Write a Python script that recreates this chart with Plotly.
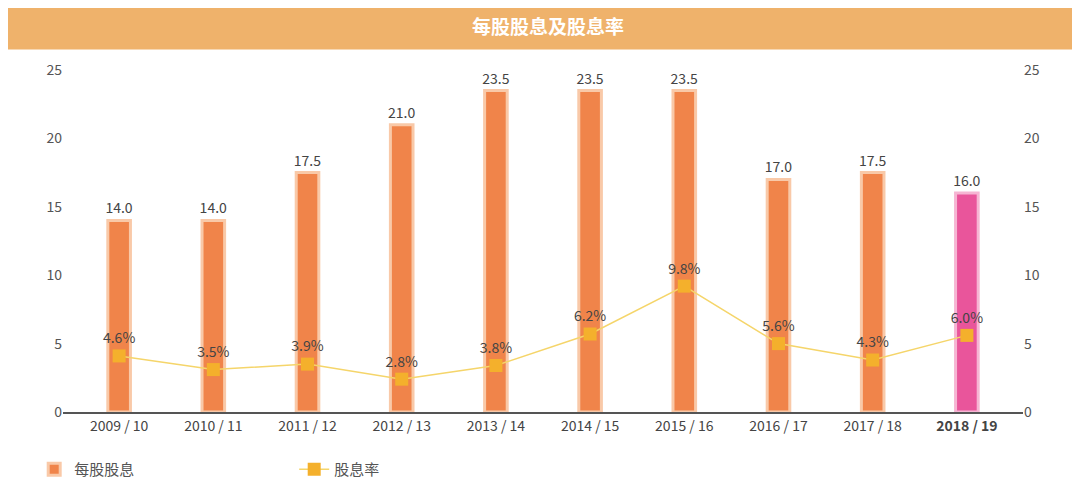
import plotly.graph_objects as go

years = ["2009 / 10","2010 / 11","2011 / 12","2012 / 13","2013 / 14","2014 / 15","2015 / 16","2016 / 17","2017 / 18","2018 / 19"]
dps = [14.0,14.0,17.5,21.0,23.5,23.5,23.5,17.0,17.5,16.0]
yield_pct = [4.6,3.5,3.9,2.8,3.8,6.2,9.8,5.6,4.3,6.0]
yield_plot = [4.1,3.1,3.5,2.4,3.4,5.7,9.2,5.0,3.8,5.6]

bar_colors = ["#F0844A"]*9 + ["#E9559B"]
line_colors = ["#F9C9A8"]*9 + ["#F6B5D3"]

fig = go.Figure()
fig.add_bar(x=years, y=dps, name="每股股息", width=0.24,
            marker=dict(color=bar_colors, line=dict(color=line_colors, width=3)),
            text=[f"{v:.1f}" for v in dps], textposition="outside", constraintext="none",
            textfont=dict(size=14, color="#444"), cliponaxis=False)
fig.add_scatter(x=years, y=yield_plot, name="股息率", mode="lines+markers+text",
                line=dict(color="#F5D56A", width=1.5),
                marker=dict(symbol="square", size=13, color="#F4B02C"),
                text=[f"{v:.1f}%" for v in yield_pct], textposition="top center",
                textfont=dict(size=14, color="#444"))
fig.add_scatter(x=years, y=dps, yaxis="y2", mode="markers",
                marker=dict(opacity=0), showlegend=False, hoverinfo="skip")

fig.add_shape(type="rect", xref="paper", yref="paper", x0=-0.06, x1=1.055, y0=1.06, y1=1.25,
              fillcolor="#EFB26B", line=dict(width=0), layer="below")

fig.update_layout(
    title=dict(text="<b>每股股息及股息率</b>", x=0.5, xanchor="center", y=0.96, yanchor="middle",
               yref="container", font=dict(size=19, color="white")),
    width=1080, height=492, margin=dict(l=55, r=65, t=62, b=88, autoexpand=False),
    paper_bgcolor="white", plot_bgcolor="white",
    font=dict(family="Noto Sans CJK SC", color="#555", size=14),
    xaxis=dict(showline=True, linecolor="#555", linewidth=1.5, ticks="",
               tickfont=dict(size=14, color="#444"),
               ticktext=years[:-1] + ["<b>2018 / 19</b>"], tickvals=years, tickmode="array"),
    yaxis=dict(range=[0, 25], dtick=5, showgrid=False, zeroline=False, tickfont=dict(size=14, color="#555")),
    yaxis2=dict(range=[0, 25], dtick=5, overlaying="y", side="right", showgrid=False,
                zeroline=False, tickfont=dict(size=14, color="#555")),
    legend=dict(orientation="h", x=-0.03, y=-0.12, xanchor="left", yanchor="top",
                font=dict(size=15, color="#555"), entrywidth=215, entrywidthmode="pixels"),
)
fig.write_html("out.html")
